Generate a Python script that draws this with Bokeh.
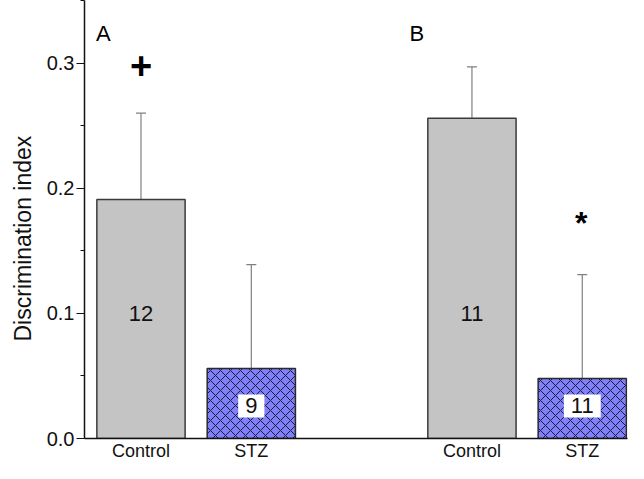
from bokeh.plotting import figure
from bokeh.models import (ColumnDataSource, Whisker, TeeHead, FixedTicker,
                          PrintfTickFormatter, Range1d, Title)
from bokeh.core.properties import value
from bokeh.embed import file_html
from bokeh.resources import INLINE

# ---- data ----
panels = ["A", "B"]
conditions = ["Control", "STZ", "Control", "STZ"]
panel_of_bar = ["A", "A", "B", "B"]
means = [0.191, 0.056, 0.256, 0.048]
upper_err = [0.069, 0.083, 0.041, 0.083]
n_animals = ["12", "9", "11", "11"]
marks = ["+", "", "", "*"]
y_title = "Discrimination index"

FONT = "Liberation Sans"

# positions: bars within a panel 1 apart, panels 3 apart
xpos = [1 + panels.index(g) * 3 + (0 if c == "Control" else 1)
        for g, c in zip(panel_of_bar, conditions)]
tops = [m + e for m, e in zip(means, upper_err)]

p = figure(width=628, height=463, output_backend="svg", toolbar_location=None,
           x_range=Range1d(0.488, 5.41), y_range=Range1d(0, 0.35),
           min_border_left=84, min_border_right=1, min_border_top=0,
           min_border_bottom=10)
p.outline_line_color = None
p.xgrid.visible = False
p.ygrid.visible = False
p.background_fill_color = "white"

ctrl = [i for i, c in enumerate(conditions) if c == "Control"]
stz = [i for i, c in enumerate(conditions) if c == "STZ"]

src_c = ColumnDataSource(dict(x=[xpos[i] for i in ctrl], top=[means[i] for i in ctrl],
                              n=[n_animals[i] for i in ctrl]))
src_s = ColumnDataSource(dict(x=[xpos[i] for i in stz], top=[means[i] for i in stz],
                              n=[n_animals[i] for i in stz]))

p.vbar(x="x", top="top", bottom=0, width=0.8, source=src_c,
       fill_color="#c4c4c4", line_color="#3a3a3a", line_width=1.5)
p.vbar(x="x", top="top", bottom=0, width=0.8, source=src_s,
       fill_color="#8080f8", line_color="#2a2a2a", line_width=1.5,
       hatch_pattern="x", hatch_color="#1a1a40", hatch_scale=10, hatch_weight=1)

err_src = ColumnDataSource(dict(x=xpos, lower=means, upper=tops))
w = Whisker(source=err_src, base="x", lower="lower", upper="upper",
            line_color="#808080", line_width=1.2,
            upper_head=TeeHead(size=10, line_color="#808080", line_width=1.2),
            lower_head=None, dimension="height")
p.add_layout(w)

# n labels
p.text(x="x", y=0.1, text="n", source=src_c, text_font=value(FONT),
       text_font_size="22px", text_align="center", text_baseline="middle",
       text_color="#111111")
p.text(x="x", y=0.026, text="n", source=src_s, text_font=value(FONT),
       text_font_size="22px", text_align="center", text_baseline="middle",
       text_color="#111111", background_fill_color="white", padding=(7, 4))

# significance marks
plus_i = marks.index("+")
star_i = marks.index("*")
p.text(x=[xpos[plus_i]], y=[0.298], text=["+"], text_font=value(FONT),
       text_font_size="38px", text_font_style="bold", text_align="center",
       text_baseline="middle", text_color="black")
p.text(x=[xpos[star_i] - 0.01], y=[0.172], text=["*"], text_font=value(FONT),
       text_font_size="32px", text_font_style="bold", text_align="center",
       text_baseline="middle", text_color="black")

# panel letters
p.text(x=[0.659, 3.50], y=[0.324, 0.324], text=panels, text_font=value(FONT),
       text_font_size="22px", text_align="center", text_baseline="middle",
       text_color="black")

# y axis
p.yaxis.ticker = FixedTicker(ticks=[0, 0.1, 0.2, 0.3],
                             minor_ticks=[0.05, 0.15, 0.25, 0.35])
p.yaxis.formatter = PrintfTickFormatter(format="%.1f")
p.yaxis.major_tick_out = 8
p.yaxis.major_tick_in = 0
p.yaxis.minor_tick_out = 4
p.yaxis.minor_tick_in = 0
p.yaxis.major_label_standoff = 2
p.yaxis.major_label_text_font = FONT
p.yaxis.major_label_text_font_size = "20px"
p.yaxis.major_label_text_color = "#111111"
p.yaxis.axis_line_width = 1.5
p.yaxis.axis_line_color = "#111111"
p.yaxis.major_tick_line_color = "#111111"
p.yaxis.minor_tick_line_color = "#111111"

# y axis title, placed like the reference (below the frame's middle)
p.add_layout(Title(text=y_title, align="left", offset=97,
                   vertical_align="top",
                   text_font=FONT, text_font_size="23px",
                   text_font_style="normal", text_color="#111111",
                   standoff=12), "left")

# x axis
p.xaxis.ticker = FixedTicker(ticks=xpos)
p.xaxis.major_label_overrides = {x: c for x, c in zip(xpos, conditions)}
p.xaxis.major_tick_out = 0
p.xaxis.major_tick_in = 0
p.xaxis.minor_tick_line_color = None
p.xaxis.major_label_standoff = 2
p.xaxis.major_label_text_font = FONT
p.xaxis.major_label_text_font_size = "18px"
p.xaxis.major_label_text_color = "#111111"
p.xaxis.axis_line_width = 1.5
p.xaxis.axis_line_color = "#111111"

open("out.html", "w").write(file_html(p, INLINE))
